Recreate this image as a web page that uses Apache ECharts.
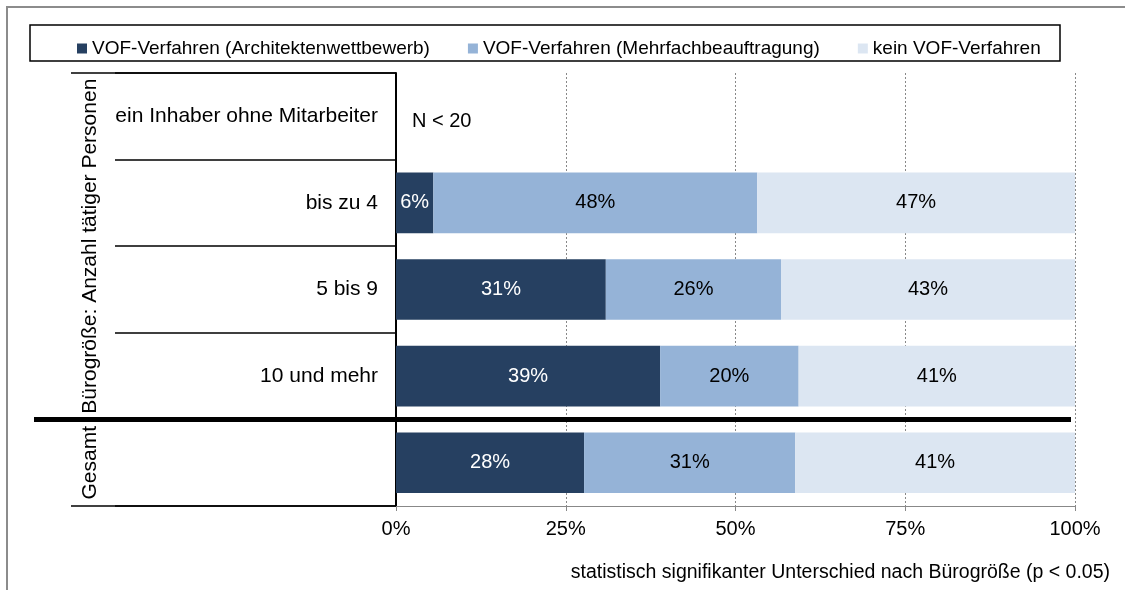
<!DOCTYPE html>
<html>
<head>
<meta charset="utf-8">
<script src="https://cdn.jsdelivr.net/npm/echarts@6/dist/echarts.min.js"></script>
<style>
  html, body { margin: 0; padding: 0; background: #fff; }
  #main { width: 1125px; height: 590px; }
</style>
</head>
<body>
<div id="main"></div>
<script>
// Kategorien und Werte (Anteile in %)
var categories = ['ein Inhaber ohne Mitarbeiter', 'bis zu 4', '5 bis 9', '10 und mehr', ''];
var seriesNames = ['VOF-Verfahren (Architektenwettbewerb)', 'VOF-Verfahren (Mehrfachbeauftragung)', 'kein VOF-Verfahren'];
var architektenwettbewerb = [null, 5.5, 30.9, 38.9, 27.7];
var mehrfachbeauftragung = [null, 47.7, 25.8, 20.4, 31.1];
var keinVOF = [null, 46.8, 43.3, 40.7, 41.2];
var xTicks = [0, 25, 50, 75, 100];

var font = 'Liberation Sans, Arial, sans-serif';
var colors = ['#264061', '#95b3d7', '#dce6f2'];

var chart = echarts.init(document.getElementById('main'));

function barSeries(name, data, labelColor) {
    return {
        name: name,
        type: 'bar',
        stack: 'total',
        barWidth: '70%',
        data: data,
        label: {
            show: true,
            position: 'inside',
            color: labelColor,
            fontFamily: font,
            fontSize: 20,
            formatter: function (p) { return Math.round(p.value) + '%'; }
        }
    };
}

var option = {
    animation: false,
    color: colors,
    textStyle: { fontFamily: font },
    legend: {
        data: seriesNames,
        left: 72,
        top: 34,
        icon: 'rect',
        itemWidth: 10,
        itemHeight: 10,
        itemGap: 38,
        textStyle: { fontFamily: font, fontSize: 19, color: '#000' }
    },
    grid: { left: 396, right: 50, top: 73, bottom: 84 },
    xAxis: {
        type: 'value',
        min: xTicks[0],
        max: xTicks[xTicks.length - 1],
        interval: 25,
        axisLine: { show: true, lineStyle: { color: '#888', width: 1 } },
        axisTick: { show: true, length: 5, lineStyle: { color: '#888' } },
        axisLabel: { formatter: '{value}%', color: '#000', fontSize: 20, margin: 13 },
        splitLine: { show: true, lineStyle: { color: '#888', type: [2, 2] } }
    },
    yAxis: {
        type: 'category',
        inverse: true,
        data: categories,
        axisLine: { show: true, lineStyle: { color: '#000', width: 2 } },
        axisTick: { show: true, length: 281, lineStyle: { color: '#000', width: 1.5 } },
        axisLabel: { color: '#000', fontSize: 21, margin: 18 }
    },
    series: [
        barSeries(seriesNames[0], architektenwettbewerb, '#fff'),
        barSeries(seriesNames[1], mehrfachbeauftragung, '#000'),
        barSeries(seriesNames[2], keinVOF, '#000')
    ]
};
chart.setOption(option);

// Hilfslinien und Texte an den Achsen ausrichten
var x0 = chart.convertToPixel({ xAxisIndex: 0 }, 0);
var x100 = chart.convertToPixel({ xAxisIndex: 0 }, 100);
var yc = categories.map(function (c, i) { return chart.convertToPixel({ yAxisIndex: 0 }, i); });
var band = yc[1] - yc[0];
var yTop = yc[0] - band / 2;
var yBottom = yc[4] + band / 2;
var ySep = (yc[3] + yc[4]) / 2;

chart.setOption({
    graphic: [
        {
            type: 'rect', silent: true,
            shape: { x: 7, y: 7, width: 1200, height: 700 },
            style: { fill: null, stroke: '#8c8c8c', lineWidth: 2 }
        },
        {
            type: 'rect', silent: true,
            shape: { x: 30, y: 25, width: 1030, height: 36 },
            style: { fill: null, stroke: '#000', lineWidth: 1.5 }
        },
        {
            type: 'line', silent: true,
            shape: { x1: 71, y1: yTop, x2: x0, y2: yTop },
            style: { stroke: '#000', lineWidth: 1.5 }
        },
        {
            type: 'line', silent: true,
            shape: { x1: 71, y1: yBottom, x2: x0, y2: yBottom },
            style: { stroke: '#000', lineWidth: 1.5 }
        },
        {
            type: 'line', silent: true, z: 100,
            shape: { x1: 34, y1: ySep, x2: x100 - 4, y2: ySep },
            style: { stroke: '#000', lineWidth: 5 }
        },
        {
            type: 'text', silent: true,
            x: 90, y: (yTop + ySep) / 2, rotation: Math.PI / 2,
            style: {
                text: 'Bürogröße: Anzahl tätiger Personen',
                font: '21px ' + font, fill: '#000',
                align: 'center', verticalAlign: 'middle'
            }
        },
        {
            type: 'text', silent: true,
            x: 90, y: yc[4], rotation: Math.PI / 2,
            style: {
                text: 'Gesamt',
                font: '21px ' + font, fill: '#000',
                align: 'center', verticalAlign: 'middle'
            }
        },
        {
            type: 'text', silent: true,
            x: x0 + 16, y: yc[0] + 5,
            style: {
                text: 'N < 20',
                font: '20px ' + font, fill: '#000',
                align: 'left', verticalAlign: 'middle'
            }
        },
        {
            type: 'text', silent: true,
            x: 1110, y: 573,
            style: {
                text: 'statistisch signifikanter Unterschied nach Bürogröße (p < 0.05)',
                font: '19.5px ' + font, fill: '#000',
                align: 'right', verticalAlign: 'middle'
            }
        }
    ]
});
</script>
</body>
</html>
